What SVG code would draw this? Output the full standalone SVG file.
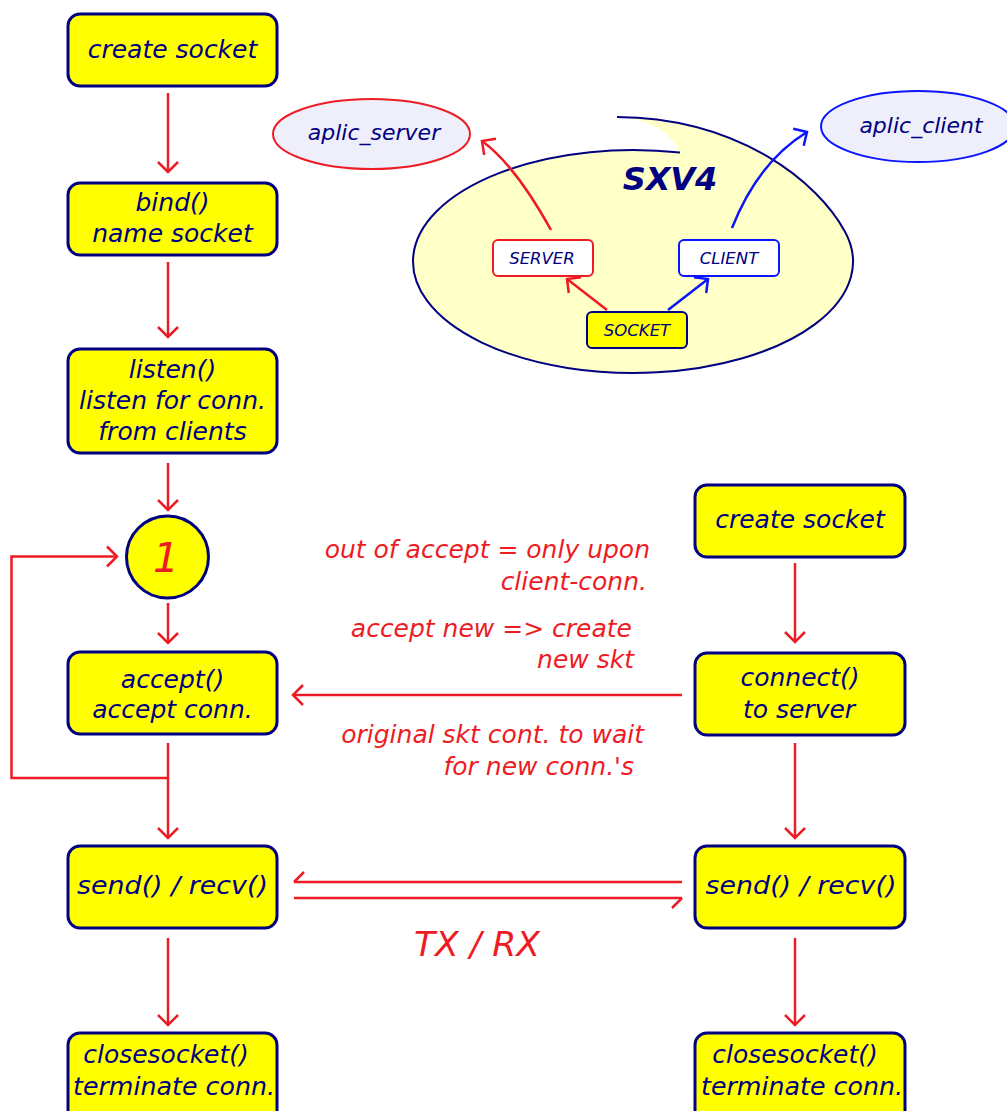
<svg xmlns="http://www.w3.org/2000/svg" width="1007" height="1111" viewBox="0 0 1007 1111">
<defs>
<style>
.box{fill:#ffff00;stroke:#000080;stroke-width:3}
.t{font-family:"DejaVu Sans",Verdana,sans-serif;font-style:italic;font-size:25px;fill:#000080;text-anchor:middle}
.r{font-family:"DejaVu Sans",Verdana,sans-serif;font-style:italic;font-size:25px;fill:#ed1c24;text-anchor:end}
.s{font-family:"DejaVu Sans",Verdana,sans-serif;font-style:italic;font-size:16.5px;fill:#000080;text-anchor:middle}
.ar{fill:none;stroke:#ed1c24;stroke-width:2.5;marker-end:url(#ah)}
.ab{fill:none;stroke:#0a14ff;stroke-width:2.5;marker-end:url(#ahb)}
.ah2{fill:none;stroke:#ed1c24;stroke-width:2.5;marker-end:url(#half)}
</style>
<marker id="ah" markerUnits="userSpaceOnUse" markerWidth="14" markerHeight="24" refX="10" refY="10" orient="auto" overflow="visible">
<path d="M0,0 L10,10 L0,20" fill="none" stroke="#ed1c24" stroke-width="2.5"/>
</marker>
<marker id="ahb" markerUnits="userSpaceOnUse" markerWidth="14" markerHeight="24" refX="10" refY="10" orient="auto" overflow="visible">
<path d="M0,0 L10,10 L0,20" fill="none" stroke="#0a14ff" stroke-width="2.5"/>
</marker>
<marker id="half" markerUnits="userSpaceOnUse" markerWidth="14" markerHeight="24" refX="10" refY="10" orient="auto" overflow="visible">
<path d="M0,20 L10,10" fill="none" stroke="#ed1c24" stroke-width="2.5"/>
</marker>
</defs>
<rect width="1007" height="1111" fill="#ffffff"/>

<g id="sxv4">
<path d="M680,152.6 A220,111.5 0 1 0 845,231.7 C818,182.3 740,118 617,117 Q665,120 680,152.6 Z" fill="#ffffc8" stroke="none"/>
<path d="M680,152.6 A220,111.5 0 1 0 845,231.7 C818,182.3 740,118 617,117" fill="none" stroke="#000080" stroke-width="2"/>
<text x="670" y="190" style="font-family:'DejaVu Sans',Verdana,sans-serif;font-style:italic;font-weight:bold;font-size:32px;fill:#000080;text-anchor:middle">SXV4</text>
</g>

<g id="aplic_server">
<ellipse cx="371.5" cy="134" rx="98.5" ry="35" fill="#efeffc" stroke="#ed1c24" stroke-width="2"/>
<text class="t" x="374" y="140" style="font-size:22px">aplic_server</text>
</g>
<g id="aplic_client">
<ellipse cx="918" cy="126.5" rx="97" ry="35.5" fill="#efeffc" stroke="#0a14ff" stroke-width="2"/>
<text class="t" x="921" y="133" style="font-size:22px">aplic_client</text>
</g>
<g id="server">
<rect x="493" y="240" width="100" height="36" rx="5" fill="#ffffff" stroke="#ed1c24" stroke-width="2"/>
<text class="s" x="542" y="264">SERVER</text>
</g>
<g id="client">
<rect x="679" y="240" width="100" height="36" rx="5" fill="#ffffff" stroke="#0a14ff" stroke-width="2"/>
<text class="s" x="729" y="264">CLIENT</text>
</g>
<g id="socket">
<rect x="587" y="312" width="100" height="36" rx="5" fill="#ffff00" stroke="#000080" stroke-width="2"/>
<text class="s" x="637" y="336">SOCKET</text>
</g>

<g id="l_create">
<rect class="box" x="68" y="14" width="209" height="72" rx="12"/>
<text class="t" x="172.5" y="58">create socket</text>
</g>
<g id="l_bind">
<rect class="box" x="68" y="183" width="209" height="72" rx="12"/>
<text class="t" x="172.5" y="211">bind()</text>
<text class="t" x="172.5" y="242">name socket</text>
</g>
<g id="l_listen">
<rect class="box" x="68" y="349" width="209" height="104" rx="12"/>
<text class="t" x="172.5" y="378">listen()</text>
<text class="t" x="172.5" y="409">listen for conn.</text>
<text class="t" x="172.5" y="440">from clients</text>
</g>
<g id="c1">
<circle cx="167.5" cy="557" r="41" fill="#ffff00" stroke="#000080" stroke-width="3"/>
<text x="166" y="572" style="font-family:'DejaVu Sans',Verdana,sans-serif;font-style:italic;font-size:41px;fill:#ed1c24;text-anchor:middle">1</text>
</g>
<g id="l_accept">
<rect class="box" x="68" y="652" width="209" height="82" rx="12"/>
<text class="t" x="172.5" y="688">accept()</text>
<text class="t" x="172.5" y="718">accept conn.</text>
</g>
<g id="l_send">
<rect class="box" x="68" y="846" width="209" height="82" rx="12"/>
<text class="t" x="172.5" y="894" textLength="191" lengthAdjust="spacingAndGlyphs">send() / recv()</text>
</g>
<g id="l_close">
<rect class="box" x="68" y="1033" width="209" height="90" rx="12"/>
<text class="t" x="166" y="1063">closesocket()</text>
<text class="t" x="174" y="1095" textLength="202" lengthAdjust="spacingAndGlyphs">terminate conn.</text>
</g>

<g id="r_create">
<rect class="box" x="695" y="485" width="210" height="72" rx="12"/>
<text class="t" x="800" y="528">create socket</text>
</g>
<g id="r_connect">
<rect class="box" x="695" y="653" width="210" height="82" rx="12"/>
<text class="t" x="800" y="686">connect()</text>
<text class="t" x="799" y="718">to server</text>
</g>
<g id="r_send">
<rect class="box" x="695" y="846" width="210" height="82" rx="12"/>
<text class="t" x="801" y="894" textLength="191" lengthAdjust="spacingAndGlyphs">send() / recv()</text>
</g>
<g id="r_close">
<rect class="box" x="695" y="1033" width="210" height="90" rx="12"/>
<text class="t" x="795" y="1063">closesocket()</text>
<text class="t" x="802" y="1095" textLength="202" lengthAdjust="spacingAndGlyphs">terminate conn.</text>
</g>

<g id="labels">
<text class="r" x="650" y="558">out of accept = only upon</text>
<text class="r" x="647" y="590">client-conn.</text>
<text class="r" x="632" y="637">accept new =&gt; create</text>
<text class="r" x="634" y="668">new skt</text>
<text class="r" x="644" y="743">original skt cont. to wait</text>
<text class="r" x="634" y="775">for new conn.'s</text>
<text x="477" y="956" textLength="126" lengthAdjust="spacingAndGlyphs" style="font-family:'DejaVu Sans',Verdana,sans-serif;font-style:italic;font-size:34px;fill:#ed1c24;text-anchor:middle">TX / RX</text>
</g>

<g id="connectors">
<path class="ar" d="M168,93 V172"/>
<path class="ar" d="M168,262 V337"/>
<path class="ar" d="M168,463 V510"/>
<path class="ar" d="M168,603 V643"/>
<path class="ar" d="M168,743 V838"/>
<path class="ar" d="M168,778 H11.5 V556.5 H117"/>
<path class="ar" d="M168,938 V1025"/>
<path class="ar" d="M795,563 V642"/>
<path class="ar" d="M795,743 V838"/>
<path class="ar" d="M795,938 V1025"/>
<path class="ar" d="M682,695 H293"/>
<path class="ah2" d="M682,882 H294"/>
<path class="ah2" d="M294,898 H682"/>
<path class="ar" d="M607,310 L567,279"/>
<path class="ab" d="M668,310 L708,279"/>
<path class="ar" d="M551,230 Q515,165 482,141"/>
<path class="ab" d="M732,228 Q758,162 807,132"/>
</g>
</svg>
